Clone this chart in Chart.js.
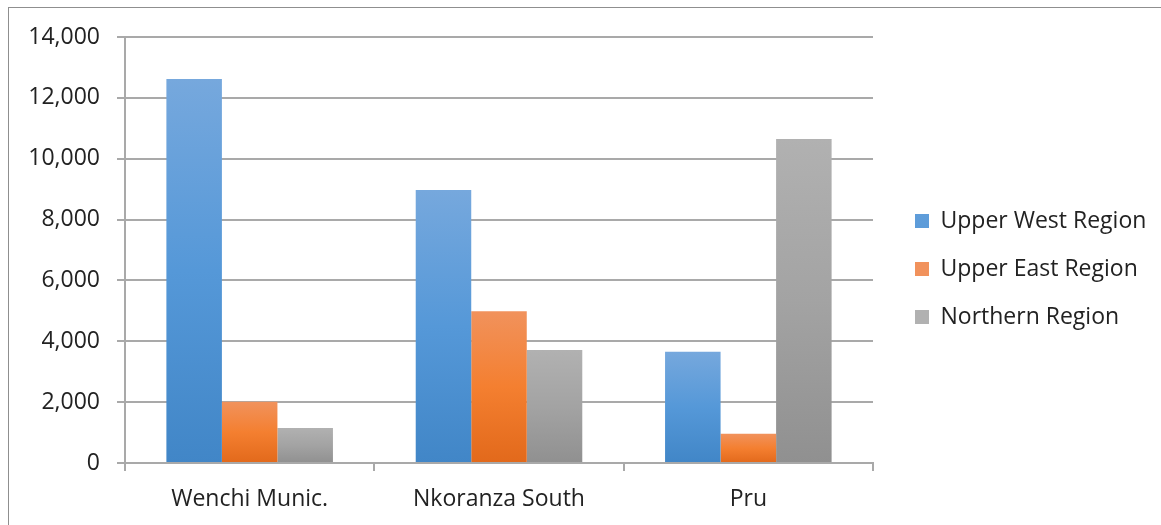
<!DOCTYPE html>
<html lang="en">
<head>
<meta charset="UTF-8">
<title>Upper West, Upper East and Northern Region by district</title>
<script src="https://cdn.jsdelivr.net/npm/chart.js"></script>
<style>
  html, body { margin: 0; padding: 0; background: #fff; overflow: hidden; }
  #wrap { position: relative; width: 1161px; height: 525px; }
  /* thin frame of the chart object, only top and left edges are in view */
  .frame { position: absolute; left: 8px; top: 7px; width: 1200px; height: 600px;
           border-top: 1px solid #8f8f8f; border-left: 1px solid #8f8f8f; pointer-events: none; }
</style>
</head>
<body>
<div id="wrap">
  <canvas id="chart"></canvas>
  <div class="frame"></div>
</div>
<script>
// data
const districts = ['Wenchi Munic.', 'Nkoranza South', 'Pru'];
const upperWest = [12620, 8970, 3660];
const upperEast = [2010, 4990, 960];
const northern = [1150, 3710, 10650];
const yMax = 14000;
const yStep = 2000;

const gridGrey = '#a9a9a9';
const textColor = '#222222';
const legendFont = { family: 'Open Sans', size: 23 };

// each bar gets its own top-to-bottom gradient, like the spreadsheet fill
function barFill(stops) {
  return function (ctx) {
    const chart = ctx.chart;
    if (ctx.type !== 'data' || !chart.chartArea) return stops[1];
    const y = chart.scales.y;
    const top = y.getPixelForValue(ctx.raw);
    const base = y.getPixelForValue(0);
    const g = chart.ctx.createLinearGradient(0, top, 0, base);
    g.addColorStop(0, stops[0]);
    g.addColorStop(0.5, stops[1]);
    g.addColorStop(1, stops[2]);
    return g;
  };
}

// room on the right so the legend starts where it does in the picture
const probe = document.createElement('canvas').getContext('2d');
probe.font = legendFont.size + 'px "' + legendFont.family + '"';
const longest = Math.max(...['Upper West Region', 'Upper East Region', 'Northern Region']
  .map(t => probe.measureText(t).width));
const rightPad = Math.max(0, 210.5 - longest);

// category labels hang below the short x-axis box, so let them draw to the canvas edge
const labelRoom = {
  id: 'labelRoom',
  afterLayout(chart) { chart.scales.x.bottom = chart.height; }
};

new Chart(document.getElementById('chart'), {
  type: 'bar',
  data: {
    labels: districts,
    datasets: [
      { label: 'Upper West Region', data: upperWest, yAxisID: 'y',
        backgroundColor: barFill(['#76a8dd', '#5598d8', '#4186c7']) },
      { label: 'Upper East Region', data: upperEast, yAxisID: 'y',
        backgroundColor: barFill(['#f1925c', '#f47f30', '#e2691b']) },
      { label: 'Northern Region', data: northern, yAxisID: 'y',
        backgroundColor: barFill(['#b1b1b1', '#a3a3a3', '#909090']) }
    ]
  },
  plugins: [labelRoom],
  options: {
    responsive: true,
    maintainAspectRatio: false,
    animation: false,
    datasets: { bar: { barPercentage: 1, categoryPercentage: 0.668, borderWidth: 0 } },
    layout: { padding: { top: 37, bottom: 24, left: 0, right: rightPad } },
    plugins: {
      title: { display: false },
      tooltip: { enabled: false },
      legend: {
        position: 'right',
        maxWidth: 400,
        labels: {
          boxWidth: 14,
          boxHeight: 14,
          padding: 25,
          color: textColor,
          font: legendFont
        }
      }
    },
    scales: {
      x: {
        grid: { offset: true, drawOnChartArea: false, tickLength: 8, color: gridGrey, lineWidth: 2 },
        border: { color: gridGrey, width: 2 },
        ticks: { color: textColor, font: { family: 'Open Sans', size: 23 }, padding: 15 },
        afterFit(s) { s.height = 38; }
      },
      y: {
        min: 0,
        max: yMax,
        ticks: {
          stepSize: yStep,
          color: textColor,
          font: { family: 'Open Sans', size: 23 },
          padding: 17,
          callback: v => v.toLocaleString('en-US')
        },
        grid: { color: gridGrey, lineWidth: 2, tickLength: 8 },
        border: { color: gridGrey, width: 2 },
        afterFit(s) { s.width = 125; }
      },
      // empty spacer between plot and legend
      pad: {
        type: 'linear',
        position: 'right',
        display: true,
        grid: { display: false },
        ticks: { display: false },
        border: { display: false },
        afterFit(s) { s.width = 17; }
      }
    }
  }
});
</script>
</body>
</html>
